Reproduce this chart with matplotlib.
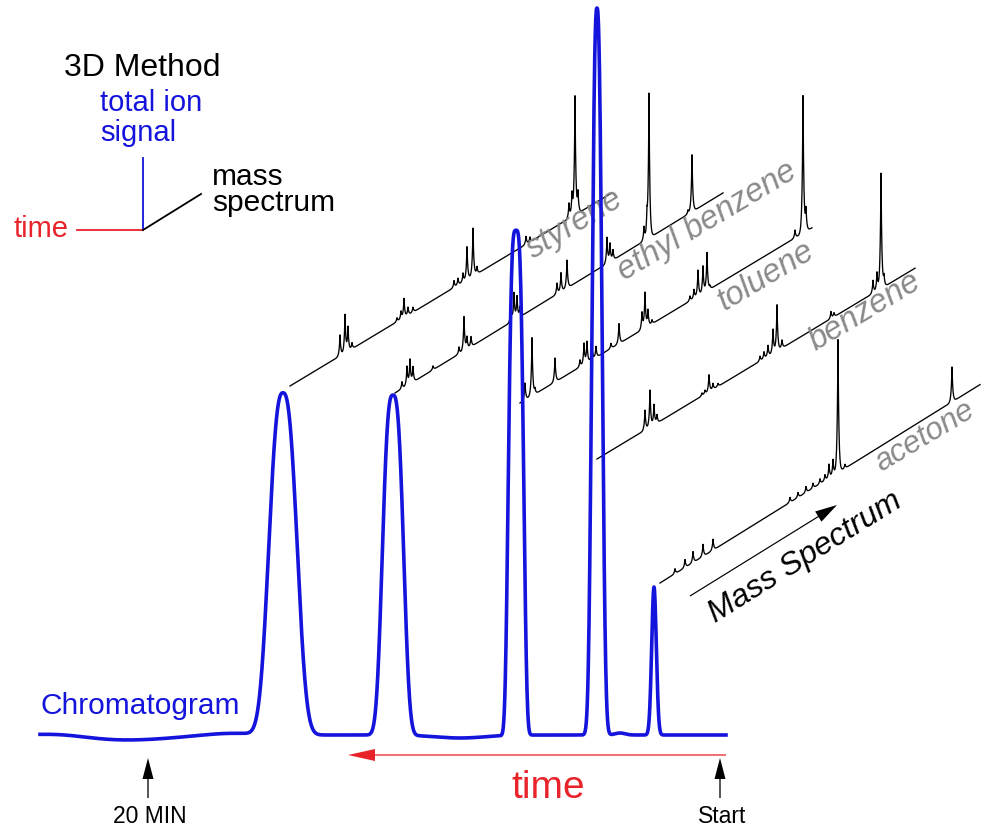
import numpy as np
import matplotlib
matplotlib.use("Agg")
import matplotlib.pyplot as plt

plt.rcParams['font.family'] = ['Liberation Sans', 'DejaVu Sans']

# ---------------- data ----------------
# Chromatogram (total ion signal), pixel-based schematic
chrom_x_range = [40, 726]
chrom_base_y = 735
peak_centers = [283, 393, 516, 597, 654]
peak_heights = [342, 340, 505, 727, 148]
peak_widths = [13.3, 9.9, 7.1, 4.8, 2.3]
peak_shapes = [2.6, 2.9, 3.6, 2.6, 2.0]
# small baseline wobbles (center, amplitude, width)
wobble_centers = [60, 126, 230, 460, 620]
wobble_amps = [2, -5, 2, -3, 2]
wobble_widths = [25, 45, 25, 25, 5]

# Mass spectra: label, baseline start (x, y), end x, slope, stick positions, heights
compounds = ["styrene", "ethyl benzene", "toluene", "benzene", "acetone"]
spec_start = [(290, 386), (395, 393), (520, 403), (597, 459), (660, 583)]
spec_end_x = [612, 723, 812, 915, 980]
spec_slope = [-0.60, -0.61, -0.60, -0.60, -0.62]

styrene_x = [340, 345, 348, 352, 397, 401, 404, 408, 413, 454, 458, 463, 467, 473, 477, 526, 530, 569, 572, 575, 578]
styrene_h = [21, 38, 24, 6, 4, 8, 19, 8, 5, 7, 7, 9, 33, 48, 7, 8, 5, 15, 22, 118, 20]
ethylbenzene_x = [402, 407, 410, 413, 433, 459, 464, 467, 471, 511, 514, 517, 520, 557, 561, 567, 607, 610, 613, 644, 647, 649, 688, 692]
ethylbenzene_h = [7, 19, 24, 15, 4, 7, 34, 12, 10, 16, 27, 22, 10, 11, 19, 28, 26, 18, 10, 14, 20, 143, 4, 57]
toluene_x = [525, 532, 535, 555, 580, 584, 587, 592, 596, 611, 619, 642, 645, 648, 652, 690, 694, 698, 703, 707, 710, 795, 803, 806]
toluene_h = [17, 58, 5, 24, 7, 21, 21, 13, 11, 5, 20, 17, 35, 16, 4, 5, 9, 26, 27, 38, 3, 8, 137, 21]
benzene_x = [645, 650, 654, 657, 702, 705, 709, 713, 718, 760, 764, 768, 773, 777, 782, 831, 834, 873, 877, 881, 884]
benzene_h = [20, 37, 20, 8, 3, 4, 17, 6, 3, 5, 7, 11, 24, 46, 8, 7, 4, 13, 18, 115, 10]
acetone_x = [675, 685, 693, 703, 713, 790, 798, 806, 813, 820, 825, 829, 833, 838, 845, 952]
acetone_h = [5, 8, 11, 12, 11, 5, 5, 6, 5, 5, 6, 14, 16, 133, 4, 35]
spec_x = [styrene_x, ethylbenzene_x, toluene_x, benzene_x, acetone_x]
spec_h = [styrene_h, ethylbenzene_h, toluene_h, benzene_h, acetone_h]

label_pos = [(575, 224), (707, 221), (766, 276), (865, 311), (925, 437)]
label_size = [23.5, 23.5, 23.5, 23.5, 22.5]

# ---------------- figure ----------------
W, H = 983, 833
fig = plt.figure(figsize=(W / 100, H / 100), dpi=100)
ax = fig.add_axes([0, 0, 1, 1])
ax.set_xlim(0, W)
ax.set_ylim(H, 0)
ax.axis('off')

BLUE = '#1414dc'
RED = '#e8232a'
GRAY = '#8a8a8a'

# mass spectra
tau = 0.85
for (x0, y0), x1, s, xs, hs in zip(spec_start, spec_end_x, spec_slope, spec_x, spec_h):
    xx = np.arange(x0, x1 + 0.05, 0.1)
    base = y0 + s * (xx - x0)
    sig = np.zeros_like(xx)
    for p, h in zip(xs, hs):
        sig += h * np.exp(-np.abs(xx - p) / tau)
    ax.plot(xx, base - sig, color='black', lw=0.95, solid_joinstyle='round', zorder=2)

# compound labels
for name, (lx, ly), fs in zip(compounds, label_pos, label_size):
    ax.text(lx, ly, name, color=GRAY, fontsize=fs, fontstyle='italic',
            rotation=31, rotation_mode='anchor', ha='center', va='center', zorder=3)

# chromatogram
xc = np.arange(chrom_x_range[0], chrom_x_range[1] + 0.1, 0.25)
signal = np.zeros_like(xc)
for c, h, w, p in zip(peak_centers, peak_heights, peak_widths, peak_shapes):
    signal += h * np.exp(-0.5 * np.abs((xc - c) / w) ** p)
for c, a, w in zip(wobble_centers, wobble_amps, wobble_widths):
    signal += a * np.exp(-0.5 * ((xc - c) / w) ** 2)
ax.plot(xc, chrom_base_y - signal, color=BLUE, lw=2.6, solid_joinstyle='round', zorder=4)

ax.text(40, 714, "Chromatogram", color=BLUE, fontsize=21.5, ha='left', va='baseline', zorder=5)

# time arrow (red)
ax.arrow(726, 755, 348 - 726, 0, width=1.3, head_width=12, head_length=27,
         length_includes_head=True, color=RED, lw=0, zorder=5)
ax.text(548, 798, "time", color=RED, fontsize=28, ha='center', va='baseline')

# up arrows with labels
for ax_x, lab in [(148, "20 MIN"), (720, "Start")]:
    ax.arrow(ax_x, 798, 0, 758 - 798, width=1.3, head_width=11, head_length=21,
             length_includes_head=True, color='black', lw=0)
    ax.text(ax_x + 2, 823, lab, color='black', fontsize=16.5, ha='center', va='baseline')

# Mass Spectrum arrow + label
ax.arrow(690, 596, 837 - 690, 505 - 596, width=1.2, head_width=12, head_length=22,
         length_includes_head=True, color='black', lw=0)
ax.text(805, 557, "Mass Spectrum", color='black', fontsize=23, fontstyle='italic',
        rotation=32, rotation_mode='anchor', ha='center', va='center')

# 3D method legend
ax.text(142, 76, "3D Method", color='black', fontsize=23, ha='center', va='baseline')
ax.text(100, 89, "total ion\nsignal", color=BLUE, fontsize=21, ha='left', va='top',
        linespacing=1.08)
ax.plot([143, 143], [158, 230], color=BLUE, lw=1.3)
ax.plot([77, 143], [230, 230], color=RED, lw=1.3)
ax.plot([143, 201], [230, 194], color='black', lw=1.3)
ax.text(68, 237, "time", color=RED, fontsize=21, ha='right', va='baseline')
ax.text(212, 163, "mass\nspectrum", color='black', fontsize=21.5, ha='left', va='top',
        linespacing=0.93)

fig.savefig("out.png", dpi=100)
